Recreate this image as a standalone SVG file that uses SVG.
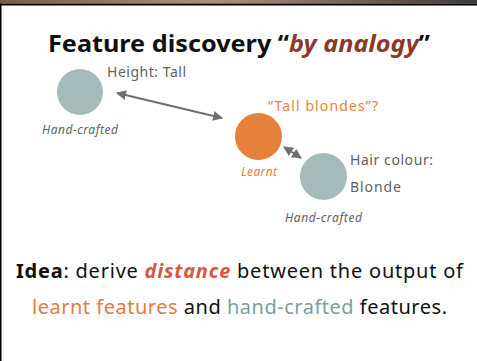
<svg xmlns="http://www.w3.org/2000/svg" width="477" height="361" viewBox="0 0 477 361">
  <defs>
    <linearGradient id="topband" x1="0" y1="0" x2="1" y2="0">
      <stop offset="0" stop-color="#7a5c45"/>
      <stop offset="0.45" stop-color="#b0907a"/>
      <stop offset="1" stop-color="#3e3a38"/>
    </linearGradient>
    <marker id="head" viewBox="0 0 10 10" refX="9" refY="5" markerWidth="5" markerHeight="5" orient="auto-start-reverse">
      <path d="M0,0 L10,5 L0,10 z" fill="#6f6f6f"/>
    </marker>
    <style>
      text { font-family: "Noto Sans", "Lato", sans-serif; }
      .title { font-size: 24px; font-weight: 700; fill: #111; }
      .label { font-size: 14px; fill: #5f5f5f; }
      .note { font-size: 12px; font-style: italic; fill: #5f5f5f; }
      .body { font-size: 20px; fill: #111; }
      .hand { fill: #a4bbba; }
      .learnt { fill: #e5813a; }
      .link { stroke: #6f6f6f; stroke-width: 2; fill: none; marker-start: url(#head); marker-end: url(#head); }
    </style>
  </defs>

  <!-- frame -->
  <rect x="0" y="0" width="477" height="361" fill="#fff"/>
  <rect x="0" y="0" width="477" height="3.5" fill="url(#topband)"/>
  <rect x="0" y="3.5" width="477" height="2" fill="#000"/>
  <rect x="0" y="3.5" width="1.5" height="357.5" fill="#000"/>

  <text class="title" x="48" y="52" textLength="382" lengthAdjust="spacingAndGlyphs">Feature discovery “<tspan font-style="italic" fill="#8b3a2a">by analogy</tspan>”</text>

  <g id="connectors">
    <line class="link" x1="117" y1="93" x2="222" y2="118"/>
    <line class="link" x1="284" y1="147" x2="301" y2="158"/>
  </g>

  <g id="height">
    <circle class="hand" cx="80" cy="92" r="23"/>
    <text class="label" x="107" y="77" textLength="79">Height: Tall</text>
    <text class="note" x="42" y="134" textLength="76">Hand-crafted</text>
  </g>

  <g id="learnt">
    <circle class="learnt" cx="258.5" cy="136.5" r="23.5"/>
    <text class="label" x="268" y="111" style="fill:#e5813a" textLength="110">“Tall blondes”?</text>
    <text class="note" x="241" y="176" style="fill:#e5813a" textLength="36">Learnt</text>
  </g>

  <g id="hair">
    <circle class="hand" cx="323.5" cy="176.5" r="23.5"/>
    <text class="label" x="350" y="165" textLength="83">Hair colour:</text>
    <text class="label" x="350" y="192" textLength="51">Blonde</text>
    <text class="note" x="285" y="222" textLength="77">Hand-crafted</text>
  </g>

  <text class="body" x="16" y="278" textLength="447"><tspan font-weight="700">Idea</tspan>: derive <tspan font-weight="700" font-style="italic" fill="#d9573f">distance</tspan> between the output of</text>
  <text class="body" x="32" y="314" textLength="415"><tspan fill="#e07b45">learnt features</tspan> and <tspan fill="#7e9ea2">hand-crafted</tspan> features.</text>
</svg>
